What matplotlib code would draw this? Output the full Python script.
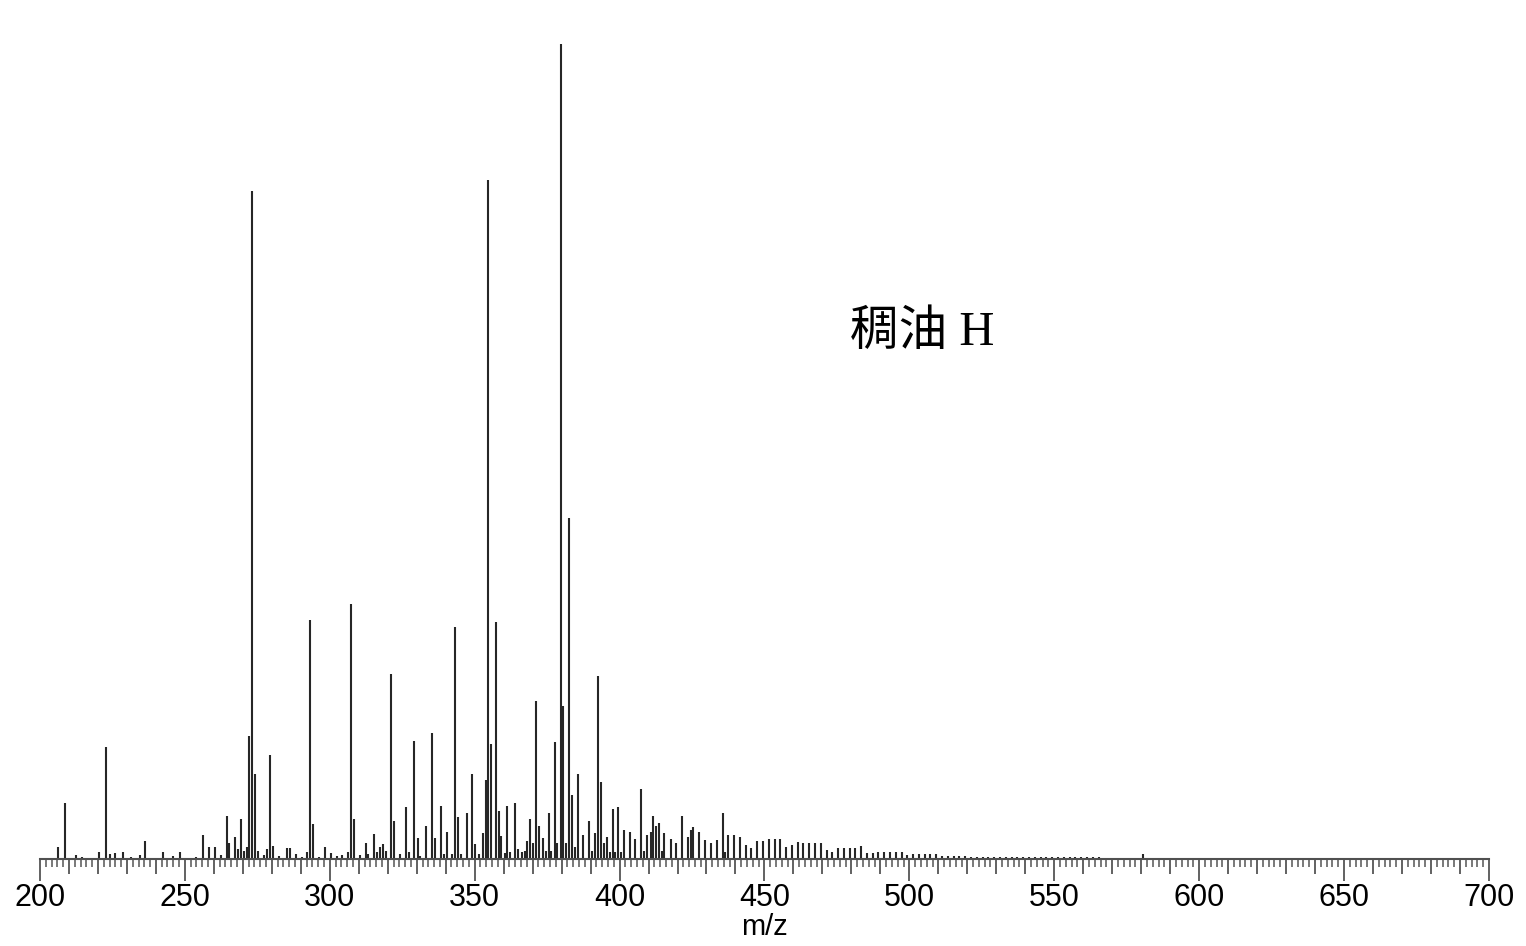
import matplotlib
matplotlib.use("Agg")
import matplotlib.pyplot as plt
from matplotlib.ticker import MultipleLocator, FuncFormatter

# ---------------------------
# DATA (relative intensity %)
# ---------------------------
low_mz = [206.2, 208.6, 212.6, 214.4, 220.5, 222.8, 224.3, 226.0, 228.5, 231.4,
          234.5, 236.2, 242.3, 246.0, 248.3, 254.0, 256.3, 258.4, 260.4, 262.3,
          264.4, 265.3, 267.4, 268.3, 269.4, 270.4, 271.3, 272.3, 273.3, 274.3,
          275.3, 277.3, 278.4, 279.4, 280.3, 282.4, 285.4, 286.4, 288.2, 290.3,
          292.3, 293.3, 294.3, 296.3, 298.3, 300.3, 302.4, 304.3, 306.3, 307.3,
          308.4, 310.3, 312.4, 313.3, 315.3, 316.3, 317.3, 318.2, 319.3]
low_int = [1.5, 6.9, 0.5, 0.3, 0.8, 13.7, 0.6, 0.7, 0.8, 0.3,
           0.5, 2.2, 0.8, 0.4, 0.9, 0.3, 2.9, 1.5, 1.5, 0.5,
           5.3, 2.0, 2.7, 1.2, 4.9, 1.0, 1.5, 15.1, 82.0, 10.4,
           1.0, 0.5, 1.2, 12.8, 1.6, 0.4, 1.3, 1.3, 0.6, 0.3,
           0.8, 29.3, 4.3, 0.3, 1.5, 0.7, 0.4, 0.5, 0.8, 31.3,
           4.9, 0.5, 2.0, 0.6, 3.1, 0.8, 1.5, 1.8, 1.0]

mid_mz = [321.2, 322.3, 324.3, 326.3, 327.3, 329.2, 330.3, 331.3, 333.2, 335.4,
          336.3, 338.3, 339.3, 340.4, 342.3, 343.2, 344.2, 345.3, 347.2, 349.2,
          350.2, 351.5, 352.8, 353.8, 354.6, 355.5, 357.2, 358.3, 359.2, 360.3,
          361.2, 362.3, 363.8, 365.0, 366.3, 367.3, 368.2, 369.1, 370.2, 371.3,
          372.1, 373.7, 374.5, 375.6, 376.5, 377.7, 378.5, 379.7, 380.6, 381.5,
          382.7, 383.6, 384.5, 385.6, 387.5, 389.6, 390.5, 391.6, 392.6, 393.6,
          394.6, 395.7, 396.6, 397.6, 398.5, 399.6, 400.5, 401.5, 403.6, 405.5,
          407.5, 408.5, 409.5, 410.7, 411.6, 412.7, 413.5, 414.5, 415.5, 417.6,
          419.5, 421.5, 423.5, 424.5, 425.5, 427.5, 429.5, 431.4, 433.5, 435.6,
          436.5, 437.5, 439.5]
mid_int = [22.7, 4.6, 0.6, 6.4, 0.8, 14.5, 2.6, 0.4, 4.0, 15.4,
           2.6, 6.5, 0.6, 3.3, 0.6, 28.5, 5.2, 0.6, 5.6, 10.4,
           1.8, 0.6, 3.2, 9.7, 83.3, 14.1, 29.1, 5.9, 2.8, 0.7,
           6.5, 0.8, 6.9, 1.2, 0.8, 1.0, 2.2, 4.9, 2.0, 19.4,
           4.0, 2.6, 1.0, 5.6, 1.0, 14.3, 2.0, 100.0, 18.8, 2.0,
           41.8, 7.9, 1.5, 10.4, 3.0, 4.7, 1.0, 3.2, 22.5, 9.4,
           2.0, 2.7, 0.8, 6.1, 0.8, 6.4, 0.8, 3.6, 3.3, 2.5,
           8.6, 1.0, 2.9, 3.3, 5.3, 4.0, 4.4, 1.0, 3.2, 2.4,
           2.0, 5.3, 2.7, 3.6, 3.9, 3.3, 2.3, 2.0, 2.3, 5.7,
           0.8, 2.9, 3.0]

tail_mz = [441.5, 443.5, 445.4, 447.5, 449.5, 451.4, 453.5, 455.4, 457.4, 459.4,
           461.5, 463.4, 465.5, 467.4, 469.4, 471.5, 473.4, 475.4, 477.5, 479.4,
           481.4, 483.3, 485.4, 487.4, 489.3, 491.2, 493.3, 495.3, 497.3, 499.3,
           501.3, 503.3, 505.3, 507.3, 509.3, 511.3, 513.3, 515.3, 517.3, 519.3,
           521.3, 523.3, 525.3, 527.3, 529.3, 531.3, 533.3, 535.3, 537.3, 539.3,
           541.3, 543.3, 545.3, 547.3, 549.3, 551.3, 553.3, 555.3, 557.3, 559.3,
           561.3, 563.3, 565.3, 567.3, 569.3, 571.3, 573.3, 575.3, 577.3, 580.6]
tail_int = [2.7, 1.7, 1.4, 2.2, 2.2, 2.5, 2.5, 2.5, 1.5, 1.7,
            2.1, 1.9, 1.9, 1.9, 1.9, 1.1, 0.9, 1.3, 1.3, 1.3,
            1.3, 1.6, 0.7, 0.7, 0.9, 0.9, 0.9, 0.9, 0.9, 0.5,
            0.6, 0.6, 0.6, 0.6, 0.6, 0.4, 0.4, 0.4, 0.4, 0.4,
            0.3, 0.3, 0.3, 0.25, 0.25, 0.25, 0.25, 0.2, 0.2, 0.2,
            0.2, 0.2, 0.2, 0.2, 0.2, 0.2, 0.2, 0.2, 0.2, 0.2,
            0.2, 0.2, 0.2, 0.15, 0.15, 0.15, 0.15, 0.15, 0.15, 0.6]

label_text = "稠油 H"

# ---------------------------
# PLOT
# ---------------------------
fig = plt.figure(figsize=(15.26, 9.46), dpi=100)
ax = fig.add_axes([0.0262, 0.092, 0.9495, 0.8615])

mz = low_mz + mid_mz + tail_mz
inten = low_int + mid_int + tail_int
ax.vlines(mz, 0, inten, color="#262626", lw=1.5)

ax.set_xlim(200, 700)
ax.set_ylim(0, 100)

for side in ["left", "right", "top"]:
    ax.spines[side].set_visible(False)
ax.spines["bottom"].set_color("#505050")
ax.spines["bottom"].set_linewidth(1.5)
ax.set_yticks([])

ax.xaxis.set_major_locator(MultipleLocator(10))
ax.xaxis.set_minor_locator(MultipleLocator(2))
ax.xaxis.set_major_formatter(
    FuncFormatter(lambda v, p: f"{v:.0f}" if round(v) % 50 == 0 else ""))
ax.tick_params(axis="x", which="major", direction="out", length=16, width=1.3,
               color="#555555", labelsize=22, pad=1)
ax.tick_params(axis="x", which="minor", direction="out", length=6, width=1.1,
               color="#555555")
for v, t in zip(ax.get_xticks(), ax.xaxis.get_major_ticks()):
    if round(v) % 50 != 0:
        t.tick1line.set_markersize(11)

for lab in ax.get_xticklabels():
    lab.set_fontfamily("Liberation Sans")
ax.set_xlabel("m/z", fontsize=21, family="Liberation Sans", labelpad=0)

ax.text(479.5, 64.6, label_text, fontsize=35, va="center", ha="left",
        family=["Liberation Serif", "Noto Sans CJK SC"])

fig.savefig("out.png", dpi=100, facecolor="white")
